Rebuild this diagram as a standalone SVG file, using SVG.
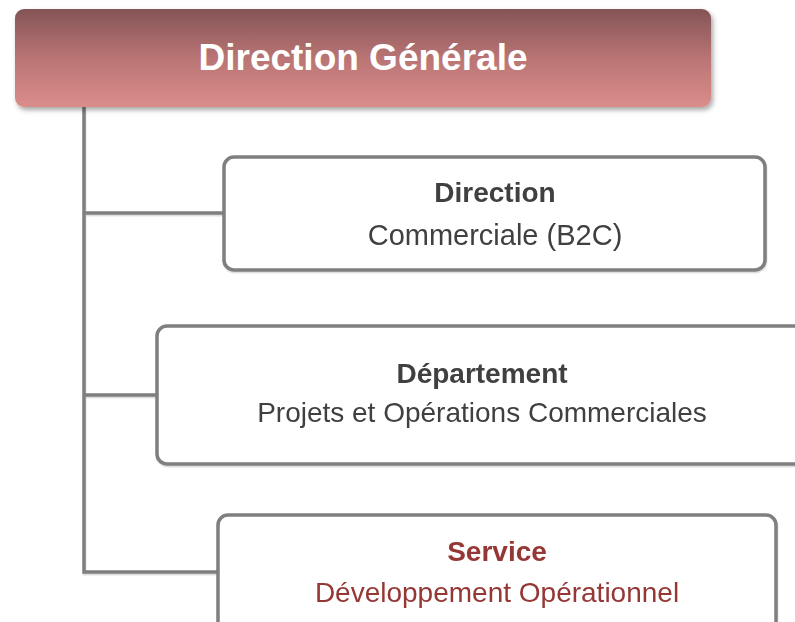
<svg xmlns="http://www.w3.org/2000/svg" width="795" height="622" viewBox="0 0 795 622">
  <style>
    .box { fill: #ffffff; stroke: #7f7f7f; stroke-width: 3.5; }
    .link { fill: none; stroke: #7f7f7f; stroke-width: 3.5; }
    .t { font-family: "Liberation Sans", Arial, sans-serif; font-size: 28px; text-anchor: middle; fill: #404040; }
    .b { font-weight: bold; }
    .red { fill: #953735; }
    .title { font-family: "Liberation Sans", Arial, sans-serif; font-size: 37px; font-weight: bold; text-anchor: middle; fill: #ffffff; }
  </style>
  <defs>
    <linearGradient id="headFill" x1="0" y1="0" x2="0" y2="1">
      <stop offset="0" stop-color="#845457"/>
      <stop offset="0.5" stop-color="#b97474"/>
      <stop offset="1" stop-color="#db8d8b"/>
    </linearGradient>
    <filter id="headShadow" x="-5%" y="-10%" width="110%" height="130%">
      <feDropShadow dx="2" dy="3" stdDeviation="2.5" flood-color="#000000" flood-opacity="0.35"/>
    </filter>
    <filter id="lineShadow" x="-5%" y="-5%" width="110%" height="110%">
      <feDropShadow dx="0.5" dy="1.5" stdDeviation="0.6" flood-color="#000000" flood-opacity="0.15"/>
    </filter>
  </defs>

  <rect width="795" height="622" fill="#ffffff"/>

  <!-- connectors -->
  <g id="connectors" filter="url(#lineShadow)">
    <path class="link" d="M84,107 V572 H218"/>
    <path class="link" d="M84,213 H224"/>
    <path class="link" d="M84,395 H157"/>
  </g>

  <!-- top level -->
  <g id="direction-generale">
    <rect x="15" y="9" width="696" height="98" rx="9" fill="url(#headFill)" filter="url(#headShadow)"/>
    <text class="title" x="363" y="70">Direction Générale</text>
  </g>

  <g id="direction-commerciale" filter="url(#lineShadow)">
    <rect class="box" x="224" y="157" width="541" height="113" rx="10"/>
    <text class="t b" x="495" y="202">Direction</text>
    <text class="t" x="495" y="245" style="font-size:29px">Commerciale (B2C)</text>
  </g>

  <g id="departement" filter="url(#lineShadow)">
    <rect class="box" x="157" y="326" width="650" height="138" rx="10"/>
    <text class="t b" x="482" y="383">Département</text>
    <text class="t" x="482" y="422">Projets et Opérations Commerciales</text>
  </g>

  <g id="service" filter="url(#lineShadow)">
    <rect class="box" x="218" y="515" width="558" height="140" rx="10"/>
    <text class="t b red" x="497" y="561">Service</text>
    <text class="t red" x="497" y="602">Développement Opérationnel</text>
  </g>
</svg>
